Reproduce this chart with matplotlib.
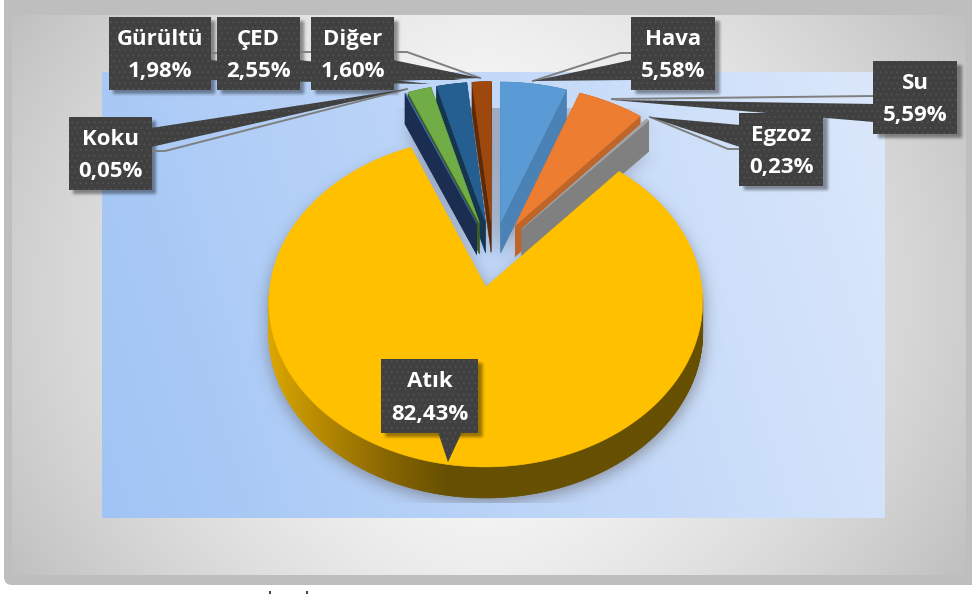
import numpy as np
import matplotlib
matplotlib.use('Agg')
import matplotlib.pyplot as plt
from matplotlib.patches import Polygon, Rectangle, FancyBboxPatch
from matplotlib.path import Path

plt.rcParams['hatch.linewidth'] = 0.6

# share of each category, clockwise from 12 o'clock
labels = ['Hava', 'Su', 'Egzoz', 'Atık', 'Koku', 'Gürültü', 'ÇED', 'Diğer']
shares = [5.58, 5.59, 0.23, 82.43, 0.05, 1.98, 2.55, 1.60]

top_colors = ['#5B9BD5', '#ED7D31', '#A5A5A5', '#FFC000', '#4472C4', '#70AD47', '#255E91', '#9E480E']
wall_colors = ['#4A82B5', '#C0652A', '#808080', '#665000', '#1B2E52', '#3D5E26', '#16364F', '#5C2A08']

# label box: left, top (pixels), leader tail and line
boxes = {
    'Hava': (631, 17), 'Su': (873, 61), 'Egzoz': (739, 113), 'Atık': (381, 359),
    'Koku': (69, 117), 'Gürültü': (109, 17), 'ÇED': (217, 17), 'Diğer': (311, 17),
}
box_widths = {'Hava': 84, 'Su': 84, 'Egzoz': 84, 'Atık': 97, 'Koku': 83, 'Gürültü': 102, 'ÇED': 83, 'Diğer': 83}
tails = {
    'Hava': [(632, 60), (632, 80), (533, 81)],
    'Su': [(874, 104), (874, 122), (612, 100)],
    'Egzoz': [(740, 125), (740, 147), (650, 117)],
    'Diğer': [(393, 60), (393, 81), (480, 78)],
    'ÇED': [(299, 60), (299, 80), (462, 80)],
    'Gürültü': [(210, 60), (210, 80), (430, 84)],
    'Koku': [(151, 128), (151, 147), (407, 89)],
    'Atık': [(438, 432), (462, 432), (448, 462)],
}
leaders = {
    'Hava': [(631, 53), (620, 53), (533, 81)],
    'Su': [(873, 96), (612, 99)],
    'Egzoz': [(739, 149), (728, 149), (650, 117)],
    'Diğer': [(394, 52), (407, 52), (480, 78)],
    'ÇED': [(300, 52), (311, 52)],
    'Gürültü': [(211, 53), (217, 53)],
    'Koku': [(152, 151), (165, 151), (407, 89)],
}

# 3D pie projection
EXPLODE = 0.21
DEPTH = 31
X0, Y0, A, B, K = 493.25, 253.7, 212.0, 157.6, 0.0893


def project(px, py):
    w = 1 + K * py
    return X0 + A * px / w, Y0 - B * py / w


def slice_top(start, end):
    mid = np.radians((start + end) / 2)
    ox, oy = EXPLODE * np.sin(mid), EXPLODE * np.cos(mid)
    t = np.radians(np.linspace(start, end, max(int(end - start) * 2, 2)))
    px = np.concatenate([[ox], ox + np.sin(t)])
    py = np.concatenate([[oy], oy + np.cos(t)])
    x, y = project(px, py)
    return np.column_stack([x, y])


def blur(img, n):
    k = np.ones(n) / n
    for _ in range(3):
        img = np.apply_along_axis(lambda r: np.convolve(r, k, mode='same'), 0, img)
        img = np.apply_along_axis(lambda r: np.convolve(r, k, mode='same'), 1, img)
    return img


fig = plt.figure(figsize=(9.72, 5.94), dpi=100)
ax = fig.add_axes([0, 0, 1, 1])
ax.set_xlim(0, 972)
ax.set_ylim(594, 0)
ax.axis('off')

gx, gy = np.meshgrid(np.arange(972) + 0.5, np.arange(594) + 0.5)
grid_pts = np.column_stack([gx.ravel(), gy.ravel()])

# grey frame
ax.add_patch(FancyBboxPatch((4, -20), 1000, 605, boxstyle='round,pad=0,rounding_size=8',
                            fc='#BEBEBE', ec='none', zorder=0))

# inner gradient
dx = np.abs(gx - 486) / 480
dy = np.abs(gy - 295) / 280
inner = np.clip(0.99 - 0.18 * dx ** 1.5 - 0.06 * dy ** 2, 0, 1)
im = ax.imshow(np.dstack([inner] * 3), extent=(0, 972, 594, 0), aspect='auto', zorder=1)
im.set_clip_path(Rectangle((12, 15), 953, 560, transform=ax.transData))

# plot area gradient
t = np.clip((gx - 102) / 782 * 0.85 + (518 - gy) / 446 * 0.15, 0, 1)[..., None]
c0 = np.array(matplotlib.colors.to_rgb('#A0C4F5'))
c1 = np.array(matplotlib.colors.to_rgb('#DCE8FB'))
im = ax.imshow(c0 + (c1 - c0) * t, extent=(0, 972, 594, 0), aspect='auto', zorder=2)
im.set_clip_path(Rectangle((102, 72), 782, 446, transform=ax.transData))

# slice geometry from the shares
edges = np.concatenate([[0], np.cumsum(shares)]) * 360 / np.sum(shares)
tops = [slice_top(edges[i], edges[i + 1]) for i in range(len(shares))]

# soft shadow of the pie, dropped a little below it
mask = np.zeros(gx.shape)
for pts in tops:
    for off in (8, DEPTH + 4):
        mask = np.maximum(mask, Path(pts + [0, off]).contains_points(grid_pts).reshape(gx.shape))
shadow = blur(mask, 15)
rgba = np.zeros(gx.shape + (4,))
rgba[..., :3] = matplotlib.colors.to_rgb('#6E6E78')
rgba[..., 3] = shadow * 0.72
rgba[(gy < 108) | (gy > 503) | (gx < 102) | (gx > 884), 3] = 0
ax.imshow(rgba, extent=(0, 972, 594, 0), aspect='auto', zorder=3)

# painter's order: far slices first, the big one last
z = 4
for i in [0, 1, 2, 7, 6, 5, 4, 3]:
    pts = tops[i]
    if labels[i] == 'Atık':
        # front wall with a left-to-right shading, back part is hidden anyway
        arc = pts[1:]
        for a, b in zip(arc[:-1], arc[1:]):
            if a[1] < 295 and b[1] < 295:
                continue
            mx = (a[0] + b[0]) / 2
            col = [np.interp(mx, [270, 385, 447], v) for v in
                   ([0.86, 0.54, 0.40], [0.65, 0.40, 0.31], [0.0, 0.0, 0.0])]
            ax.add_patch(Polygon([a, b, b + [0, DEPTH], a + [0, DEPTH]], fc=col, ec=col, lw=0.5, zorder=z))
    else:
        for j in range(len(pts)):
            a, b = pts[j], pts[(j + 1) % len(pts)]
            ax.add_patch(Polygon([a, b, b + [0, DEPTH], a + [0, DEPTH]],
                                 fc=wall_colors[i], ec=wall_colors[i], lw=0.3, zorder=z))
    ax.add_patch(Polygon(pts, fc=top_colors[i], ec=top_colors[i], lw=0.4, zorder=z + 0.5))
    z += 1

# label box shadows
mask = np.zeros(gx.shape)
for name, (bx, by) in boxes.items():
    h = 74 if name == 'Atık' else 73
    mask[(gx > bx + 4) & (gx < bx + box_widths[name] + 4) & (gy > by + 4) & (gy < by + h + 4)] = 1
rgba = np.zeros(gx.shape + (4,))
rgba[..., 3] = blur(mask, 3) * 0.4
ax.imshow(rgba, extent=(0, 972, 594, 0), aspect='auto', zorder=20)

# leaders, tails and boxes
for name, pts in leaders.items():
    xs, ys = zip(*pts)
    ax.plot(xs, ys, color='#7F7F7F', lw=1.4, zorder=21)

for name, pts in tails.items():
    ax.add_patch(Polygon(pts, fc='#404040', ec='#525252', lw=0, hatch='...', zorder=22))

for name, share in zip(labels, shares):
    bx, by = boxes[name]
    w = box_widths[name]
    h = 74 if name == 'Atık' else 73
    ax.add_patch(Rectangle((bx, by), w, h, fc='#404040', ec='#525252', lw=0, hatch='...', zorder=23))
    txt = name + '\n' + f'{share:.2f}'.replace('.', ',') + '%'
    ax.text(bx + w / 2, by + h / 2 + 2, txt, color='white', ha='center', va='center', fontsize=16,
            family='Open Sans', fontweight='bold', linespacing=1.72, zorder=24)

# cut-off marks on the bottom edge
ax.vlines([270, 307], 591, 594, color='#222222', lw=1.2, zorder=5)

fig.savefig('out.png', dpi=100)
